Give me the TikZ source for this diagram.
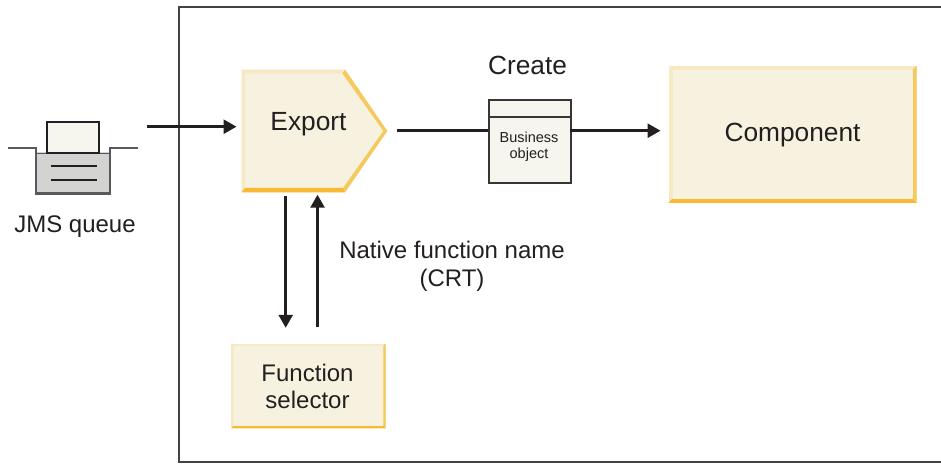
\documentclass[tikz,border=0pt]{standalone}
\usepackage{fontspec}
\setmainfont{Liberation Sans}
\usetikzlibrary{arrows.meta}
\definecolor{ink}{HTML}{231F20}
\definecolor{cream}{HTML}{F7F2E0}
\definecolor{palegold}{HTML}{F6E9C3}
\definecolor{midgold}{HTML}{F6C95E}
\definecolor{deepgold}{HTML}{F8B933}
\definecolor{paper}{HTML}{F6F6EE}
\definecolor{trough}{HTML}{D3D3D1}
\definecolor{wire}{HTML}{58595B}
\tikzset{
 x=1pt,y=-1pt,
 flow/.style={draw=ink,line width=2.6pt,-{Triangle[length=13pt,width=14pt]}},
 lab/.style={text=ink,inner sep=0pt,align=center,font=\fontsize{24}{27}\selectfont},
 bigl/.style={lab,font=\fontsize{26.3}{30}\selectfont},
 frameline/.style={draw=ink!85,line width=2pt},
 pt/.style={inner sep=0pt,minimum size=0pt}
}
\begin{document}
\begin{tikzpicture}
\useasboundingbox (0,0) rectangle (941,463);
% frame
\draw[frameline] (1000,7) -- (178.5,7) -- (178.5,461.5) -- (1000,461.5);
% Export
\fill[cream] (241.7,69.5) -- (345,69.5) -- (387.3,131) -- (345,192.3) -- (241.7,192.3) -- cycle;
\fill[palegold] (241.7,69.5) -- (345,69.5) -- (342.5,73.5) -- (245,73.5) -- (245,188) -- (241.7,192.3) -- cycle;
\fill[midgold] (345,69.5) -- (387.3,131) -- (345,192.3) -- (343,188) -- (383.3,131) -- (342.5,73.5) -- cycle;
\fill[deepgold] (241.7,192.3) -- (345,192.3) -- (343,187.8) -- (245,187.8) -- cycle;
\node[bigl] (export) at (308.5,124) {Export};
\node[pt] (exportr) at (397,130.7) {};
\node[pt] (exportin) at (236.7,126.7) {};
\node[pt] (exportdown) at (285.7,196) {};
\node[pt] (exportup) at (317.5,194.5) {};
% Component
\fill[palegold] (668.5,65.5) rectangle (916.5,202.8);
\fill[midgold] (916.5,65.5) -- (916.5,202.8) -- (912.5,199) -- (912.5,70) -- cycle;
\fill[deepgold] (668.5,202.8) -- (916.5,202.8) -- (912.5,199) -- (672,199) -- cycle;
\fill[cream] (673,70) rectangle (912.5,199);
\node[bigl] (component) at (792.5,135) {Component};
% Function selector
\fill[palegold] (231.3,343.5) rectangle (385.5,428.3);
\fill[midgold] (385.5,343.5) -- (385.5,428.3) -- (383.3,426) -- (383.3,346) -- cycle;
\fill[deepgold] (231.3,428.3) -- (385.5,428.3) -- (383.3,425.8) -- (233.5,425.8) -- cycle;
\fill[cream] (233.5,345.5) rectangle (383.3,425.8);
\node[lab] (selector) at (307.5,386.5) {Function\\selector};
\node[pt] (seldown) at (285.7,328) {};
\node[pt] (selup) at (317.5,326.8) {};
% Business object
\node[draw=ink!90,fill=paper,line width=2pt,minimum width=81.5pt,minimum height=82.5pt,inner sep=0pt,anchor=north west] (bo) at (488,99) {};
\draw[draw=ink!90,line width=2pt] (488,117) -- (569.5,117);
\node[text=ink,inner sep=0pt,align=center,font=\fontsize{14.5}{16}\selectfont] (bolabel) at (529,147) {Business\\object};
\node[bigl] (create) at (527.5,65) {Create};
\node[pt] (bol) at (488,130.7) {};
\node[pt] (bor) at (569.5,130.7) {};
\node[pt] (compin) at (660.7,130.7) {};
% JMS queue
\fill[trough] (36,152) rectangle (110,193.5);
\draw[wire,line width=2.2pt] (8.3,147.7) -- (36,147.7) -- (36,193.5) -- (110,193.5) -- (110,147.7) -- (138.3,147.7);
\draw[wire,line width=1.2pt] (36,153.5) -- (110,153.5);
\node[draw=ink,fill=paper,line width=2pt,minimum width=52pt,minimum height=31.5pt,inner sep=0pt,anchor=north west] (msg) at (46,120.6) {};
\node[pt] (l1a) at (50.5,166) {};
\node[pt] (l1b) at (96.7,166) {};
\node[pt] (l2a) at (50.5,180) {};
\node[pt] (l2b) at (96.7,180) {};
\draw[ink,line width=1.5pt] (l1a) -- (l1b);
\draw[ink,line width=1.5pt] (l2a) -- (l2b);
\node[lab] (jms) at (75,227) {JMS queue};
\node[pt] (qout) at (147,126.7) {};
% text
\node[lab,font=\fontsize{24}{28.5}\selectfont] (native) at (452,266.5) {Native function name\\(CRT)};
% connectors
\draw[flow] (qout) -- (exportin);
\draw[ink,line width=2.6pt] (exportr) -- (bol);
\draw[flow] (bor) -- (compin);
\draw[flow] (exportdown) -- (seldown);
\draw[flow] (selup) -- (exportup);
\end{tikzpicture}
\end{document}
